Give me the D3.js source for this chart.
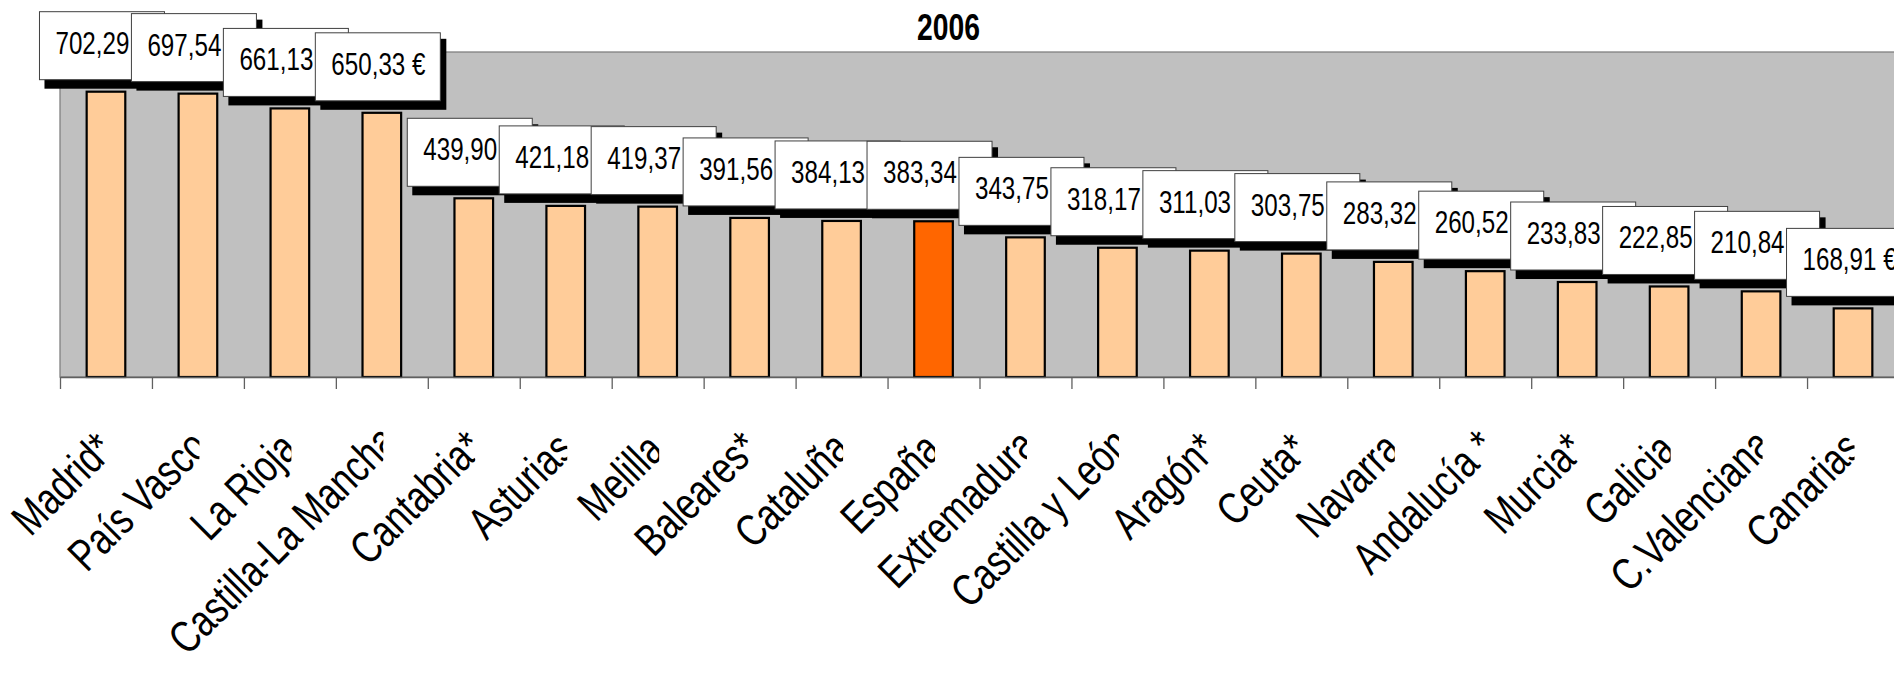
<!DOCTYPE html>
<html>
<head>
<meta charset="utf-8">
<script src="https://cdn.jsdelivr.net/npm/d3@7/dist/d3.min.js"></script>
<style>
  html, body { margin: 0; padding: 0; background: #ffffff; }
  svg { display: block; }
  text { font-family: "Liberation Sans", Arial, sans-serif; }
</style>
</head>
<body>
<script>
// ---- data ----
const title = "2006";
const categories = ["Madrid*", "País Vasco", "La Rioja", "Castilla-La Mancha", "Cantabria*", "Asturias",
  "Melilla", "Baleares*", "Cataluña", "España", "Extremadura", "Castilla y León", "Aragón*", "Ceuta*",
  "Navarra", "Andalucía *", "Murcia*", "Galicia", "C.Valenciana", "Canarias"];
const values = [702.29, 697.54, 661.13, 650.33, 439.90, 421.18, 419.37, 391.56, 384.13, 383.34,
  343.75, 318.17, 311.03, 303.75, 283.32, 260.52, 233.83, 222.85, 210.84, 168.91];
const highlighted = ["España"];
const yDomain = [0, 800];

// ---- layout ----
const W = 1894, H = 673;
const plotLeft = 60, band = 91.95, plotTop = 52, plotBottom = 377;
const plotRight = plotLeft + band * categories.length;

const svg = d3.select("body").append("svg").attr("width", W).attr("height", H);
const defs = svg.append("defs");

const x = d3.scaleBand().domain(categories).range([plotLeft, plotRight]).paddingInner(0).paddingOuter(0);
const xl = d3.scaleLinear().domain([0, categories.length]).range([plotLeft, plotRight]);
const y = d3.scaleLinear().domain(yDomain).range([plotBottom, plotTop]);

const locale = d3.formatLocale({ decimal: ",", thousands: ".", grouping: [3], currency: ["", " €"] });
const fmt = locale.format(".2f");

// plot background
svg.append("rect")
  .attr("x", plotLeft).attr("y", plotTop)
  .attr("width", plotRight - plotLeft).attr("height", plotBottom - plotTop)
  .attr("fill", "#C0C0C0").attr("stroke", "#808080").attr("stroke-width", 1.3);

// title
svg.append("text")
  .attr("transform", `translate(948.5,40) scale(0.765,1)`)
  .attr("text-anchor", "middle")
  .attr("font-size", 37).attr("font-weight", "bold").attr("fill", "#000")
  .text(title);

// bars
const bw = x.bandwidth() * 0.42;
svg.append("g").selectAll("rect").data(categories).join("rect")
  .attr("x", d => x(d) + (x.bandwidth() - bw) / 2)
  .attr("y", (d, i) => y(values[i]))
  .attr("width", bw)
  .attr("height", (d, i) => y(0) - y(values[i]))
  .attr("fill", d => highlighted.includes(d) ? "#FF6600" : "#FFCC99")
  .attr("stroke", "#000").attr("stroke-width", 2.2);

// axis
const axis = d3.axisBottom(xl).tickValues(d3.range(categories.length + 1)).tickSize(12).tickSizeOuter(0).tickFormat("");
const ag = svg.append("g").attr("transform", `translate(0,${plotBottom})`).call(axis);
ag.select(".domain").attr("stroke", "#606060").attr("stroke-width", 1.5);
ag.selectAll(".tick line").attr("stroke", "#606060").attr("stroke-width", 1.3);

// value labels
const boxW = 125, boxH = 68;
const lg = svg.append("g");
categories.forEach((c, i) => {
  const cx = x(c) + x.bandwidth() / 2;
  const bx = cx - 66.5;
  const by = y(values[i]) - 12 - boxH;
  const g = lg.append("g");
  g.append("rect").attr("x", bx + 5).attr("y", by + 6).attr("width", boxW + 1).attr("height", boxH + 3).attr("fill", "#000");
  g.append("rect").attr("x", bx).attr("y", by).attr("width", boxW).attr("height", boxH)
    .attr("fill", "#fff").attr("stroke", "#404040").attr("stroke-width", 1);
  g.append("text")
    .attr("transform", `translate(${bx + 16},${by + 42}) scale(0.763,1)`)
    .attr("font-size", 31.7).attr("fill", "#000")
    .text(fmt(values[i]) + " €");
});

// category labels (rotated 45°, narrow, clipped at band centre)
const cg = svg.append("g");
const sx = 0.78, fs = 45, over = 0.06;
categories.forEach((c, i) => {
  const cx = x(c) + x.bandwidth() / 2;
  const id = "clip" + i;
  defs.append("clipPath").attr("id", id).append("rect")
    .attr("x", cx - 600).attr("y", plotBottom + 14).attr("width", 600 + 1.5).attr("height", H);
  const t = cg.append("g").attr("clip-path", `url(#${id})`)
    .append("text")
    .attr("text-anchor", "end")
    .attr("font-size", fs).attr("fill", "#000")
    .text(c);
  const len = t.node().getComputedTextLength() * sx;
  const shift = over * len * Math.SQRT1_2;
  t.attr("transform", `translate(${cx + 5 + shift},${457 - shift}) rotate(-45) scale(${sx},1)`);
});
</script>
</body>
</html>
